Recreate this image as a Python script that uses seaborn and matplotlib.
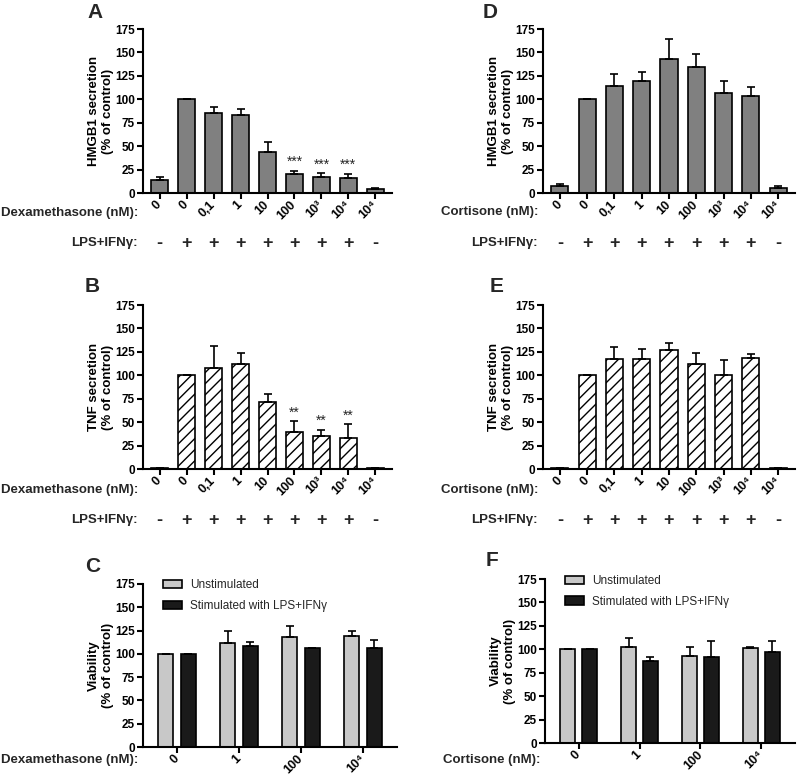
import numpy as np
import pandas as pd
import matplotlib
matplotlib.use('Agg')
import matplotlib.pyplot as plt
from matplotlib.patches import Patch
import seaborn as sns

sns.set_theme(style='ticks')
plt.rcParams['font.family'] = ['Liberation Sans', 'DejaVu Sans']
plt.rcParams['hatch.linewidth'] = 1.0

##labels shared by the secretion panels
dose_labels = ['0', '0', '0,1', '1', '10', '100', '10³', '10⁴', '10⁴']
lps_signs = ['-', '+', '+', '+', '+', '+', '+', '+', '-']

##A: HMGB1 / dexamethasone
hmgb1_dexa = [14, 100, 85, 83, 44, 20, 17, 16, 4]
hmgb1_dexa_err = [3, 0, 7, 7, 10, 4, 4, 4.5, 1]
hmgb1_dexa_stars = ['', '', '', '', '', '***', '***', '***', '']

##B: TNF / dexamethasone
tnf_dexa = [1, 100, 108, 112, 72, 39, 35, 33, 1]
tnf_dexa_err = [0, 0, 23, 12, 8, 12, 7, 15, 0]
tnf_dexa_stars = ['', '', '', '', '', '**', '**', '**', '']

##D: HMGB1 / cortisone
hmgb1_cort = [7.5, 100, 114, 120, 143, 134, 107, 104, 5.5]
hmgb1_cort_err = [2.5, 0, 13, 9, 21, 14, 13, 9, 2]

##E: TNF / cortisone
tnf_cort = [1, 100, 117, 117, 127, 112, 100, 118, 1]
tnf_cort_err = [0, 0, 13, 11.5, 7, 12, 16, 4.5, 0]

##C and F: viability
viab_doses = ['0', '1', '100', '10⁴']
viab_conds = ['Unstimulated', 'Stimulated with LPS+IFNγ']
viab_dexa_unstim = [100, 112, 118, 119]
viab_dexa_unstim_err = [0, 13, 12, 6]
viab_dexa_stim = [100, 108, 106, 106]
viab_dexa_stim_err = [0, 5, 0, 9]
viab_cort_unstim = [100, 102.5, 93, 101.5]
viab_cort_unstim_err = [0, 10, 9, 0.5]
viab_cort_stim = [100, 87.5, 92, 97]
viab_cort_stim_err = [0, 4, 17, 12]

W, H = 797, 777
fig = plt.figure(figsize=(W/100, H/100), dpi=100)


def px_axes(x0, y0, x1, y1):
    return fig.add_axes([x0/W, 1-y1/H, (x1-x0)/W, (y1-y0)/H])


def ftext(x, y, s, **kw):
    fig.text(x/W, 1-y/H, s, **kw)


def style_axis(ax, ylabel):
    sns.despine(ax=ax)
    for sp in ['left', 'bottom']:
        ax.spines[sp].set_linewidth(1.5)
        ax.spines[sp].set_color('black')
    ax.set_ylim(0, 175)
    ax.set_yticks(np.arange(0, 176, 25))
    ax.tick_params(axis='both', width=1.5, length=4, colors='black')
    ax.tick_params(axis='y', labelsize=8.5, pad=2)
    ax.tick_params(axis='x', labelsize=9, pad=3)
    for t in ax.get_yticklabels():
        t.set_fontweight('bold')
    ax.set_xlabel('')
    ax.set_ylabel(ylabel, fontsize=9.5, fontweight='bold', labelpad=0.5, color='black')
    ax.set_facecolor('white')


def add_errors(ax, bars, values, errs, capsize):
    xs = [b.get_x()+b.get_width()/2 for b in bars]
    ax.errorbar(xs, values, yerr=[np.zeros(len(errs)), errs], fmt='none',
                ecolor='black', elinewidth=1.2, capsize=capsize, capthick=1.2, zorder=3)
    return xs


def secretion_panel(box, values, errs, stars, drug, ylabel, color, hatch, rows):
    ax = px_axes(*box)
    df = pd.DataFrame({'pos': np.arange(len(values)), 'value': values})
    sns.barplot(data=df, x='pos', y='value', color=color, saturation=1, width=0.63,
                edgecolor='black', linewidth=1.2, hatch=hatch, errorbar=None, ax=ax)
    xs = add_errors(ax, ax.containers[0], values, errs, 3.2)
    ax.set_xlim(-0.62, len(values)-0.38)
    ax.set_xticks(xs)
    ax.set_xticklabels(dose_labels, rotation=45, ha='right', va='center',
                       rotation_mode='anchor', fontweight='bold')
    style_axis(ax, ylabel)
    for xi, v, e, s in zip(xs, values, errs, stars):
        if s:
            ax.text(xi, v+e+5, s, ha='center', va='baseline', fontsize=10)
    trans = ax.get_xaxis_transform()
    for xi, s in zip(xs, lps_signs):
        ax.text(xi, rows[0], s, transform=trans, ha='center', va='center',
                fontsize=13, fontweight='bold')
    x0 = box[0]
    ftext(x0-5, rows[1], drug, ha='right', va='center', fontsize=9.5, fontweight='bold')
    ftext(x0-5, rows[2], 'LPS+IFNγ:', ha='right', va='center', fontsize=9.5, fontweight='bold')
    return ax


def viability_panel(box, unstim, unstim_err, stim, stim_err, drug, label_y, leg_y):
    ax = px_axes(*box)
    df = pd.DataFrame({'dose': viab_doses*2,
                       'cond': [viab_conds[0]]*4 + [viab_conds[1]]*4,
                       'value': unstim + stim})
    pal = ['#c8c8c8', '#1a1a1a']
    sns.barplot(data=df, x='dose', y='value', hue='cond', order=viab_doses,
                hue_order=viab_conds, palette=pal, saturation=1, width=0.72, gap=0.33,
                edgecolor='black', linewidth=1.2, errorbar=None, ax=ax, legend=False)
    add_errors(ax, ax.containers[0], unstim, unstim_err, 2.9)
    add_errors(ax, ax.containers[1], stim, stim_err, 2.9)
    ax.set_xlim(-0.55, 3.55)
    ax.set_xticks(range(4))
    ax.set_xticklabels(viab_doses, rotation=45, ha='right', va='center',
                       rotation_mode='anchor', fontweight='bold')
    style_axis(ax, 'Viability\n(% of control)')
    handles = [Patch(facecolor=c, edgecolor='black', linewidth=1.2) for c in pal]
    ax.legend(handles, viab_conds, frameon=False, loc='upper left',
              bbox_to_anchor=(0.079, leg_y), fontsize=8.5, handlelength=1.6,
              handleheight=0.7, handletextpad=0.7, labelspacing=0.75,
              borderpad=0, borderaxespad=0)
    ftext(box[0]-5, label_y, drug, ha='right', va='center', fontsize=9.5, fontweight='bold')
    return ax


##rows: (sign row in axes fraction, drug label y px, lps label y px)
secretion_panel((143, 29, 392, 193), hmgb1_dexa, hmgb1_dexa_err, hmgb1_dexa_stars,
                'Dexamethasone (nM):', 'HMGB1 secretion\n(% of control)', '#808080', None,
                (-0.305, 213, 243))
secretion_panel((543, 29, 795, 193), hmgb1_cort, hmgb1_cort_err, ['']*9,
                'Cortisone (nM):', 'HMGB1 secretion\n(% of control)', '#808080', None,
                (-0.305, 212, 243))
secretion_panel((143, 305, 392, 469), tnf_dexa, tnf_dexa_err, tnf_dexa_stars,
                'Dexamethasone (nM):', 'TNF secretion\n(% of control)', 'white', '///',
                (-0.311, 490, 520))
secretion_panel((543, 305, 795, 469), tnf_cort, tnf_cort_err, ['']*9,
                'Cortisone (nM):', 'TNF secretion\n(% of control)', 'white', '///',
                (-0.311, 490, 520))
viability_panel((143, 584, 397, 747), viab_dexa_unstim, viab_dexa_unstim_err,
                viab_dexa_stim, viab_dexa_stim_err, 'Dexamethasone (nM):', 760, 1.03)
viability_panel((545, 579, 795, 743), viab_cort_unstim, viab_cort_unstim_err,
                viab_cort_stim, viab_cort_stim_err, 'Cortisone (nM):', 760, 1.025)

##panel letters
for letter, x, y in [('A', 87, 13), ('D', 483, 12), ('B', 85, 287),
                     ('E', 490, 287), ('C', 85, 566), ('F', 486, 560)]:
    ftext(x, y, letter, ha='left', va='center', fontsize=15, fontweight='bold')

fig.savefig('out.png', dpi=100, facecolor='white')
